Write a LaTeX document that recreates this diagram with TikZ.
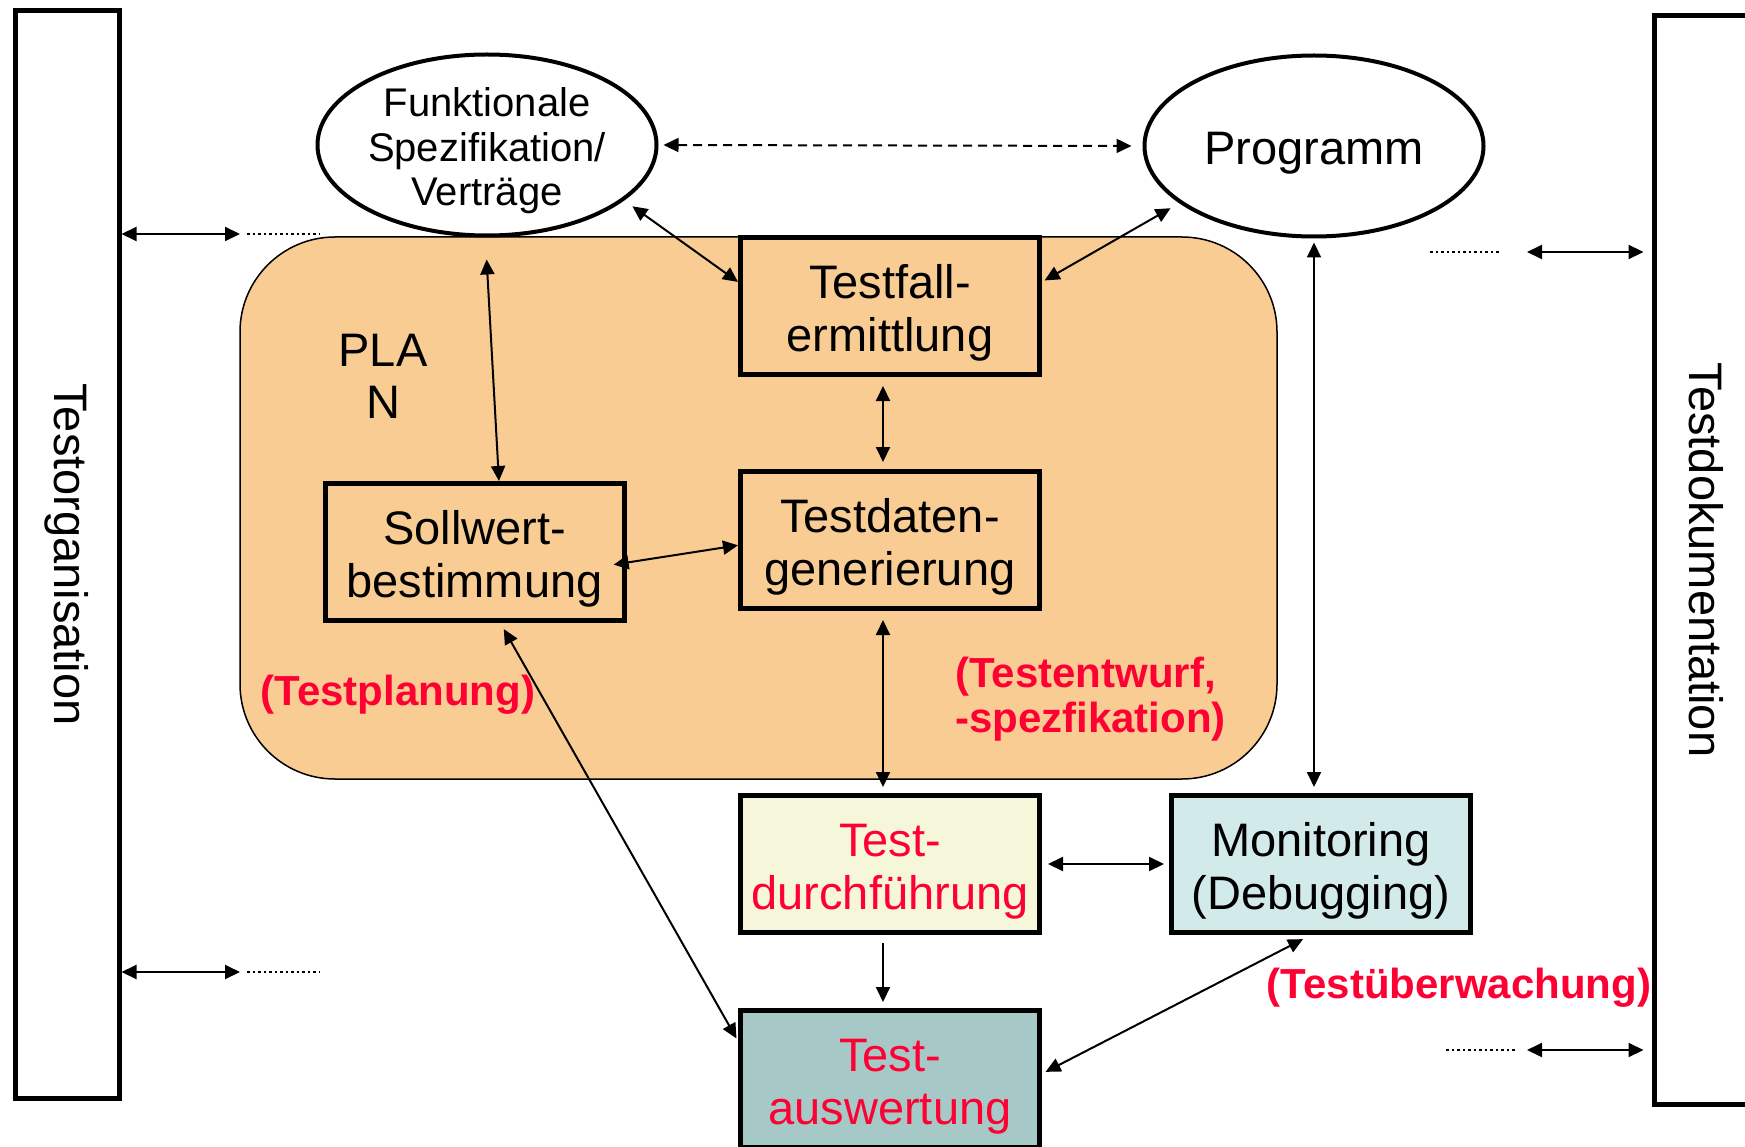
\documentclass[tikz,border=0pt]{standalone}
\usepackage{fontspec}
\setmainfont{Liberation Sans}
\usetikzlibrary{arrows.meta,shapes.geometric,calc}
\definecolor{planfill}{RGB}{249,204,148}
\definecolor{durchfill}{RGB}{246,246,218}
\definecolor{monfill}{RGB}{211,234,234}
\definecolor{auswfill}{RGB}{166,201,200}
\definecolor{lblred}{RGB}{255,0,51}
\newcommand\topstrut{\rule{0pt}{47pt}}
\begin{document}
\begin{tikzpicture}[x=1pt,y=-1pt,
  >={Triangle[length=15pt,width=14pt]},
  box/.style={draw=black, line width=5pt, minimum width=299pt, minimum height=137pt,
    inner sep=0pt, align=center, font=\fontsize{47}{53}\selectfont},
  ell/.style={ellipse, draw=black, line width=4pt, fill=white, minimum width=339pt,
    minimum height=181pt, inner sep=0pt},
  bar/.style={draw=black, line width=5pt, rotate=-90, inner sep=0pt,
    font=\fontsize{47}{53}\selectfont},
  conn/.style={line width=2pt, <->},
  oneway/.style={line width=2pt, ->},
  dotline/.style={line width=2.5pt, dash pattern=on 2.5pt off 3pt},
  redlbl/.style={text=lblred, inner sep=0pt, font=\fontsize{42}{45}\selectfont\bfseries}
]
\useasboundingbox (0,0) rectangle (1745,1147);
\clip (0,0) rectangle (1745,1147);

% side bars
\node[bar, minimum width=1087pt, minimum height=104pt] (orgbar) at (67,554.5) {Testorganisation};
\node[bar, minimum width=1088pt, minimum height=104pt] (dokbar) at (1706,560) {Testdokumentation};

% plan area
\node[draw=black, line width=1.5pt, fill=planfill, rounded corners=95pt,
  minimum width=1037pt, minimum height=542pt, inner sep=0pt] (plan) at (758.5,508) {};
\node[inner sep=0pt, align=center, font=\fontsize{47}{52}\selectfont] (plantxt) at (383,376) {PLA\\N};

% ellipses
\node[ell] (funk) at (487,145) {};
\node[inner sep=0pt, align=center, font=\fontsize{40}{44.5}\selectfont] (funktxt) at (487,151)
  {Funktionale\\Spezifikation/\\Vertr\"age};
\node[ell, font=\fontsize{47}{53}\selectfont] (prog) at (1314,146) {\topstrut Programm};

% boxes
\node[box, fill=planfill] (testfall) at (890,306) {\topstrut Testfall-\\ermittlung};
\node[box, fill=planfill] (testdaten) at (890,540) {\topstrut Testdaten-\\generierung};
\node[box, fill=planfill] (sollwert) at (474.5,552) {\topstrut Sollwert-\\bestimmung};
\node[box, fill=durchfill, text=lblred] (testdurch) at (890,864) {\topstrut Test-\\durchf\"uhrung};
\node[box, fill=monfill] (monitor) at (1321,864) {\topstrut Monitoring\\(Debugging)};
\node[box, fill=auswfill, text=lblred] (testausw) at (890,1079) {\topstrut Test-\\auswertung};

% red labels
\node[redlbl] (lplan) at (398,695) {(Testplanung)};
\node[redlbl, anchor=west, align=left] (lentw) at (955,699.5) {(Testentwurf,\\-spezfikation)};
\node[redlbl] (lueb) at (1459,988) {(Test\"uberwachung)};

% connectors
\draw[conn, dash pattern=on 9pt off 6pt, shorten <=5pt, shorten >=11pt] (funk.east) -- (prog.west);
\draw[conn, shorten <=10pt] (funk.-22) -- (testfall.171);
\draw[conn, shorten <=10pt, shorten >=3pt] (prog.-157) -- (testfall.9);
\draw[conn, shorten <=22pt] (funk.-91) -- (sollwert.71);
\draw[conn, shorten <=9pt, shorten >=7pt] ([xshift=-7pt]testfall.south) -- ([xshift=-7pt]testdaten.north);
\draw[conn, shorten <=-13pt] (sollwert.-4) -- (testdaten.-178);
\draw[conn, shorten <=9pt, shorten >=6pt] ([xshift=-7pt]testdaten.south) -- ([xshift=-7pt]testdurch.north);
\draw[conn, shorten <=4pt, shorten >=6pt] (prog.south) -- ([xshift=-7pt]monitor.north);
\draw[conn, shorten <=6pt, shorten >=5pt] (testdurch.east) -- (monitor.west);
\draw[oneway, shorten <=8pt, shorten >=6pt] ([xshift=-7pt]testdurch.south) -- ([xshift=-7pt]testausw.north);
\draw[conn, shorten <=7pt, shorten >=3pt] (sollwert.-70) -- (testausw.166);
\draw[conn, shorten <=9pt, shorten >=4pt] (monitor.-98) -- (testausw.2);

% side arrows and dotted stubs
\coordinate (l1) at (240,234);
\coordinate (l1a) at (247,234);
\coordinate (l1b) at (320,234);
\draw[conn] (orgbar.north |- l1) -- (l1);
\draw[dotline] (l1a) -- (l1b);
\coordinate (l2) at (240,972);
\coordinate (l2a) at (247,972);
\coordinate (l2b) at (320,972);
\draw[conn] (orgbar.north |- l2) -- (l2);
\draw[dotline] (l2a) -- (l2b);
\coordinate (r1) at (1527,252);
\coordinate (r1a) at (1430,252);
\coordinate (r1b) at (1501,252);
\draw[conn, shorten >=8pt] (r1) -- (dokbar.south |- r1);
\draw[dotline] (r1a) -- (r1b);
\coordinate (r2) at (1527,1050);
\coordinate (r2a) at (1446,1050);
\coordinate (r2b) at (1517,1050);
\draw[conn, shorten >=8pt] (r2) -- (dokbar.south |- r2);
\draw[dotline] (r2a) -- (r2b);
\end{tikzpicture}
\end{document}
